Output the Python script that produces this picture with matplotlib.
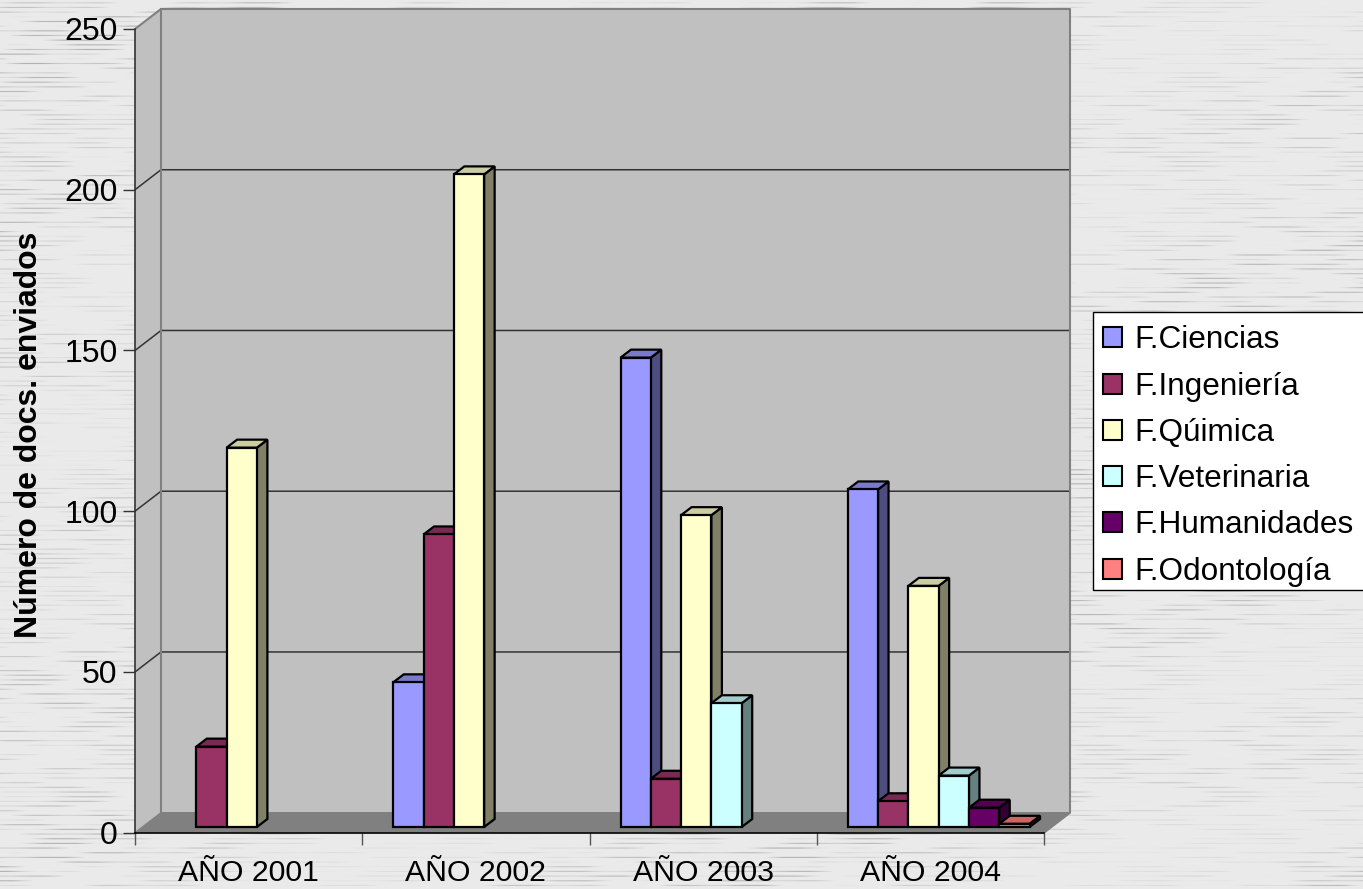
import numpy as np
import matplotlib
matplotlib.use("Agg")
import matplotlib.pyplot as plt
from matplotlib.patches import Polygon, Patch, Rectangle

plt.rcParams['font.family'] = ['Liberation Sans', 'DejaVu Sans']

years = ["AÑO 2001", "AÑO 2002", "AÑO 2003", "AÑO 2004"]
faculties = ["F.Ciencias", "F.Ingeniería", "F.Qúimica", "F.Veterinaria", "F.Humanidades", "F.Odontología"]
ciencias = [0, 45, 146, 105]
ingenieria = [25, 91, 15, 8]
quimica = [118, 203, 97, 75]
veterinaria = [0, 0, 38.5, 16]
humanidades = [0, 0, 0, 6]
odontologia = [0, 0, 0, 1]
series = [ciencias, ingenieria, quimica, veterinaria, humanidades, odontologia]
colors = ["#9999FF", "#993366", "#FFFFCC", "#CCFFFF", "#660066", "#FF8080"]
y_ticks = [0, 50, 100, 150, 200, 250]

W, H = 1363, 889
fig = plt.figure(figsize=(W / 100, H / 100), dpi=100)

# pale paper with thin dark streaks on every fifth row or so
rows, cols = np.mgrid[0:H, 0:W]
on_row = np.clip(1 - np.abs((rows % 4.67) - 2.3) / 1.1, 0, 1)
band = np.floor(rows / 4.67)
phase = band * band * 0.37
dashes = np.sin(cols / 31.0 + phase) * 0.6 + np.sin(cols / 13.0 + phase * 1.7) * 0.4
broad = 0.6 + 0.4 * np.sin(cols / 120.0 + band / 9.0) * np.sin(band / 14.0 + 1.0)
paper = 235 - 60 * on_row * np.clip(dashes + 0.3, 0, 1) * np.clip(broad, 0, 1)
bg = fig.add_axes([0, 0, 1, 1], zorder=-1)
bg.imshow(paper, cmap="gray", vmin=0, vmax=255, aspect="auto", interpolation="bilinear")
bg.axis("off")

# front plane of the 3D box in pixels
left, right, top, bottom = 135, 1044, 29, 832.7
ax = fig.add_axes([left / W, 1 - bottom / H, (right - left) / W, (bottom - top) / H])
ax.set_xlim(0, 4)
ax.set_ylim(0, 250)
ax.patch.set_alpha(0)

px_x = 4 / (right - left)
px_y = 250 / (bottom - top)
wall_dx, wall_dy = 26 * px_x, 20 * px_y
bar_dx, bar_dy = 10.5 * px_x, 8 * px_y
bar_w = 30.3 * px_x
bar_start = 31 * px_x
bar_lift = 5.7 * px_y


def poly(points, face, edge="none", lw=0, z=1):
    ax.add_patch(Polygon(points, closed=True, facecolor=face, edgecolor=edge,
                         linewidth=lw, clip_on=False, zorder=z, joinstyle="miter"))


def shade(color, f):
    rgb = np.array(matplotlib.colors.to_rgb(color)) * f
    return tuple(rgb)


# walls and floor
poly([(0, 0), (wall_dx, wall_dy), (4 + wall_dx, wall_dy), (4, 0)], "#808080", z=1)
poly([(0, 0), (wall_dx, wall_dy), (wall_dx, 250 + wall_dy), (0, 250)], "#C0C0C0", z=1)
poly([(wall_dx, wall_dy), (4 + wall_dx, wall_dy), (4 + wall_dx, 250 + wall_dy), (wall_dx, 250 + wall_dy)],
     "#C0C0C0", z=1)
for v in y_ticks[1:-1]:
    ax.plot([0, wall_dx, 4 + wall_dx], [v, v + wall_dy, v + wall_dy], color="#333333", lw=1.1, clip_on=False, zorder=2)
ax.plot([0, wall_dx, 4 + wall_dx, 4 + wall_dx, 4], [250, 250 + wall_dy, 250 + wall_dy, wall_dy, 0],
        color="#808080", lw=1.5, clip_on=False, zorder=2)
ax.plot([wall_dx, wall_dx], [wall_dy, 250 + wall_dy], color="#808080", lw=1.5, clip_on=False, zorder=2)
ax.plot([0, wall_dx, 4 + wall_dx], [0, wall_dy, wall_dy], color="#808080", lw=1, clip_on=False, zorder=2)

# bars, left to right so each one covers its neighbour's side face
z = 3
for c in range(len(years)):
    for s, values in enumerate(series):
        v = values[c]
        if v == 0:
            continue
        x0 = c + bar_start + s * bar_w
        x1 = x0 + bar_w
        y0 = bar_lift
        y1 = bar_lift + v
        poly([(x1, y0), (x1 + bar_dx, y0 + bar_dy), (x1 + bar_dx, y1 + bar_dy), (x1, y1)],
             shade(colors[s], 0.5), "black", 1.6, z)
        poly([(x0, y1), (x0 + bar_dx, y1 + bar_dy), (x1 + bar_dx, y1 + bar_dy), (x1, y1)],
             shade(colors[s], 0.8), "black", 1.6, z)
        ax.bar(x0, v, width=bar_w, bottom=y0, align="edge", color=colors[s], edgecolor="black",
               linewidth=1.6, zorder=z, clip_on=False)
        z += 1

# axes
for side in ["top", "right"]:
    ax.spines[side].set_visible(False)
ax.spines["left"].set_color("#333333")
ax.spines["left"].set_linewidth(1.2)
ax.spines["bottom"].set_color("black")
ax.spines["bottom"].set_linewidth(1.2)
ax.set_yticks(y_ticks)
ax.tick_params(axis="y", length=8.6, width=1, color="#333333", labelsize=23, pad=4)
ax.set_xticks(range(5))
ax.set_xticklabels([])
ax.tick_params(axis="x", which="major", length=8.6, width=1, color="#555555")
ax.set_xticks(np.arange(4) + 0.5, minor=True)
ax.set_xticklabels(years, minor=True)
ax.tick_params(axis="x", which="minor", length=0, labelsize=21.8, pad=19)

fig.text(29 / W, 1 - 435 / H, "Número de docs. enviados", rotation=90, fontsize=23, fontweight="bold",
         ha="center", va="center")

# legend box runs off the right edge of the picture
fig.add_artist(Rectangle((1093 / W, 1 - 590 / H), 280 / W, 278 / H, transform=fig.transFigure,
                         facecolor="white", edgecolor="black", linewidth=1))
handles = [Patch(facecolor=col, edgecolor="black", linewidth=1.5) for col in colors]
leg = fig.legend(handles, faculties, loc="upper left", bbox_to_anchor=(1103 / W, 1 - 325.5 / H),
                 bbox_transform=fig.transFigure, fontsize=22.7, frameon=False, borderaxespad=0, borderpad=0,
                 labelspacing=0.515, handlelength=0.6, handleheight=0.6, handletextpad=0.39)

fig.savefig("out.png", dpi=100)
